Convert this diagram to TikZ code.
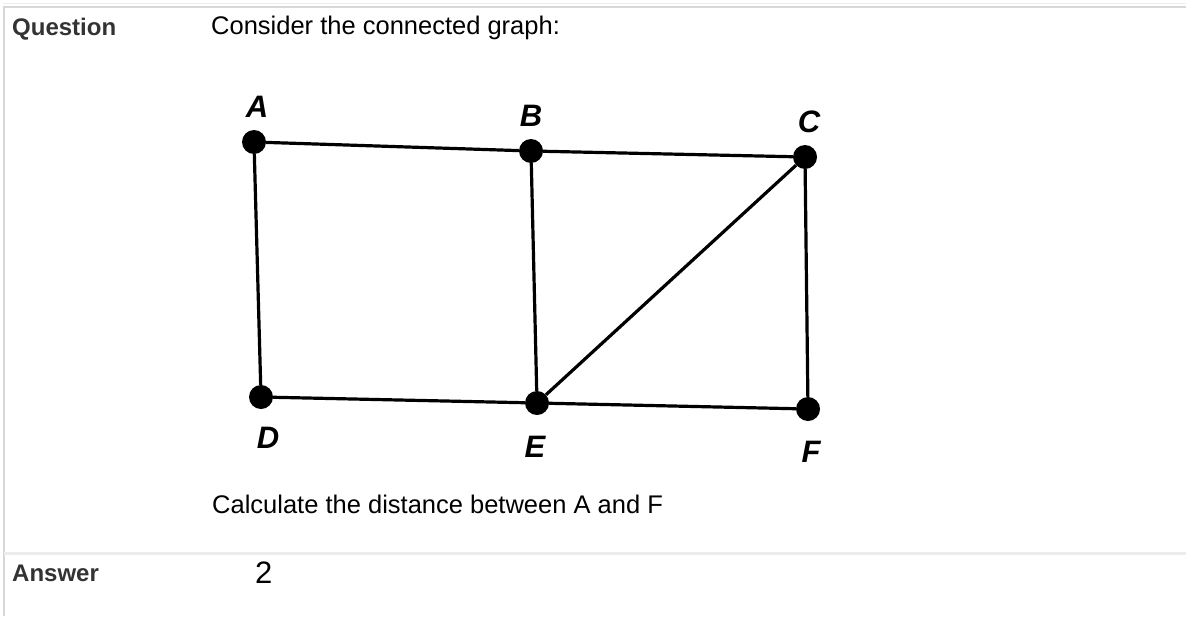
\documentclass[tikz,border=0pt]{standalone}
\usepackage{fontspec}
\setmainfont{Liberation Sans}
\usetikzlibrary{positioning}
\definecolor{qaGray}{RGB}{51,51,51}
\definecolor{qaRule}{RGB}{215,215,215}
\definecolor{qaRuleLight}{RGB}{236,236,236}
\tikzset{
    base/.style={anchor=base west, inner sep=0pt},
    heading/.style={base, font=\fontsize{24}{28}\selectfont\bfseries, text=qaGray},
    body/.style={base, font=\fontsize{25.5}{30}\selectfont, text=black},
    vertex/.style={circle, fill=black, inner sep=0pt, minimum size=24pt},
    vlabel/.style={inner sep=0pt, font=\fontsize{31}{34}\selectfont\bfseries\itshape},
    edge/.style={line width=3.2pt, color=black},
    rule/.style={line width=2pt, color=qaRule}
}
\begin{document}
\begin{tikzpicture}[x=1pt, y=-1pt]
  \useasboundingbox (0,0) rectangle (1186,616);
  % table rules
  \draw[line width=1pt, qaRuleLight] (3,3) -- (1186,3);
  \draw[rule] (3,7) -- (1186,7);
  \draw[rule] (4,7) -- (4,616);
  \draw[line width=3pt, qaRuleLight] (4,553) -- (1186,553);

  % row texts
  \node[heading] (question) at (12,35) {Question};
  \node[body] (intro) at (211,34) {Consider the connected graph:};
  \node[body] (task) at (212,513) {Calculate the distance between A and F};
  \node[heading] (answer) at (12,581) {Answer};
  \node[base, font=\fontsize{31}{34}\selectfont] (value) at (255,583) {2};

  % the graph
  \node[vertex] (vA) at (254,142) {};
  \node[vertex] (vB) at (531,151) {};
  \node[vertex] (vC) at (805,157) {};
  \node[vertex] (vD) at (261,397) {};
  \node[vertex] (vE) at (537,403) {};
  \node[vertex] (vF) at (808,409) {};

  \node[vlabel] (lA) at (257,107) {A};
  \node[vlabel] (lB) at (531,116) {B};
  \node[vlabel] (lC) at (809,122) {C};
  \node[vlabel] (lD) at (268,438) {D};
  \node[vlabel] (lE) at (535,447) {E};
  \node[vlabel] (lF) at (811,452) {F};

  \draw[edge] (vA) -- (vB);
  \draw[edge] (vB) -- (vC);
  \draw[edge] (vA) -- (vD);
  \draw[edge] (vB) -- (vE);
  \draw[edge] (vC) -- (vE);
  \draw[edge] (vC) -- (vF);
  \draw[edge] (vD) -- (vE);
  \draw[edge] (vE) -- (vF);
\end{tikzpicture}
\end{document}
